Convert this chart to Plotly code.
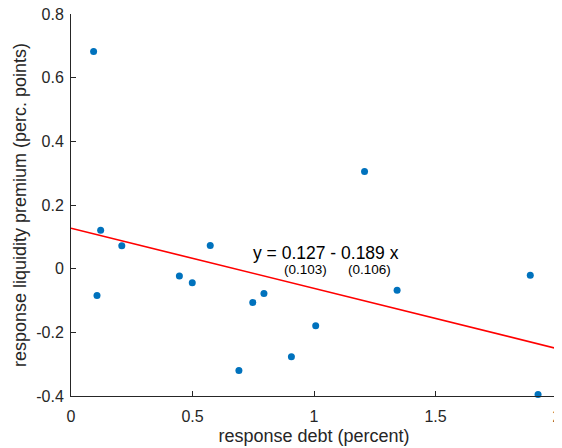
import plotly.graph_objects as go

debt = [0.093, 1.208, 0.122, 0.209, 0.573, 0.107, 0.446, 0.499, 0.748, 0.794,
        0.691, 0.907, 1.007, 1.342, 1.890, 1.922]
liq = [0.682, 0.305, 0.121, 0.072, 0.073, -0.084, -0.023, -0.044, -0.106, -0.078,
       -0.320, -0.277, -0.179, -0.068, -0.021, -0.395]
intercept = 0.127
slope = -0.189
fit_x = [0, 2]
fit_y = [intercept + slope * v for v in fit_x]

x_ticks = [0, 0.5, 1, 1.5, 2]
x_ticktext = ["0", "0.5", "1", "1.5", "2"]
y_ticks = [-0.4, -0.2, 0, 0.2, 0.4, 0.6, 0.8]
y_ticktext = ["-0.4", "-0.2", "0", "0.2", "0.4", "0.6", "0.8"]

font = "Liberation Sans, Arial, Helvetica, sans-serif"
axcol = "#262626"

fig = go.Figure()
fig.add_trace(go.Scatter(x=debt, y=liq, mode="markers",
                         marker=dict(color="#0072BD", size=7), showlegend=False,
                         cliponaxis=False))
fig.add_trace(go.Scatter(x=fit_x, y=fit_y, mode="lines",
                         line=dict(color="#FF0000", width=1.6), showlegend=False))

fig.add_annotation(x=1.049, y=0.048, text="y = 0.127 - 0.189 x", showarrow=False,
                   font=dict(family=font, size=17.5, color="#000000"),
                   xanchor="center", yanchor="middle", borderpad=0)
fig.add_annotation(x=0.967, y=-0.004, text="(0.103)", showarrow=False,
                   font=dict(family=font, size=13.5, color="#000000"),
                   xanchor="center", yanchor="middle", borderpad=0)
fig.add_annotation(x=1.228, y=-0.004, text="(0.106)", showarrow=False,
                   font=dict(family=font, size=13.5, color="#000000"),
                   xanchor="center", yanchor="middle", borderpad=0)

fig.update_layout(
    width=554, height=440,
    margin=dict(l=63, r=5, t=6, b=52),
    plot_bgcolor="white", paper_bgcolor="white",
    font=dict(family=font, size=16, color=axcol),
    xaxis=dict(range=[0, 2], tickvals=x_ticks, ticktext=x_ticktext, automargin=False,
               showgrid=False, zeroline=False, showline=True, linecolor=axcol,
               linewidth=1, ticks="inside", ticklen=5, tickcolor=axcol,
               ticklabeloverflow="allow", ticklabelstandoff=6,
               title=dict(text="response debt (percent)", standoff=5,
                          font=dict(size=18, color=axcol)),
               tickfont=dict(size=16, color=axcol)),
    yaxis=dict(range=[-0.4, 0.8], tickvals=y_ticks, ticktext=y_ticktext, automargin=False,
               showgrid=False, zeroline=False, showline=True, linecolor=axcol,
               linewidth=1, ticks="inside", ticklen=5, tickcolor=axcol,
               ticklabeloverflow="allow", ticklabelstandoff=3,
               title=dict(text="response liquidity premium (perc. points)", standoff=4,
                          font=dict(size=18, color=axcol)),
               tickfont=dict(size=16, color=axcol)),
)

fig.write_html("out.html")
